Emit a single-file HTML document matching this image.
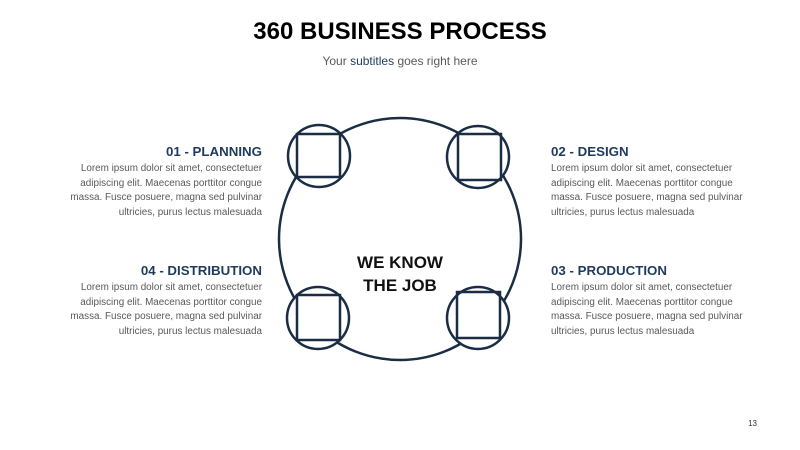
<!DOCTYPE html>
<html><head><style>
body{margin:0;width:800px;height:450px;background:#fff;font-family:"Liberation Sans",sans-serif;position:relative;overflow:hidden}
.t{position:absolute;left:0;width:800px;text-align:center}
.b{position:absolute;width:200px;font-size:9.9px;line-height:14.6px;color:#595959}
.b h3{margin:0 0 1px;font-size:13.3px;line-height:18px;color:#1f3a5f;font-weight:bold}
.l{left:62px;text-align:right}
.r{left:551px;text-align:left}
</style></head><body>
<div class="t" style="top:18px;font-size:24px;font-weight:bold;color:#000">360 BUSINESS PROCESS</div>
<div class="t" style="top:54px;font-size:12px;color:#595959">Your <span style="color:#1f3a5f">subtitles</span> goes right here</div>
<svg width="800" height="450" style="position:absolute;left:0;top:0">
<g fill="none" stroke="#1b2d45" stroke-width="2.5">
<ellipse cx="400" cy="239" rx="121" ry="121"/>
<circle cx="319" cy="156" r="31" fill="#fff"/><rect x="297" y="134" width="43" height="43"/>
<circle cx="478" cy="157" r="31" fill="#fff"/><rect x="458" y="134" width="43" height="46"/>
<circle cx="318" cy="318" r="31" fill="#fff"/><rect x="297" y="295" width="43" height="45"/>
<circle cx="478" cy="318" r="31" fill="#fff"/><rect x="457" y="292" width="43" height="46"/>
</g>
<text x="400" y="268" text-anchor="middle" font-size="17" font-weight="bold" fill="#111" font-family="Liberation Sans">WE KNOW</text>
<text x="400" y="291" text-anchor="middle" font-size="17" font-weight="bold" fill="#111" font-family="Liberation Sans">THE JOB</text>
<text x="757" y="426" text-anchor="end" font-size="8" fill="#333" font-family="Liberation Sans">13</text>
</svg>
<div class="b l" style="top:143px"><h3>01 - PLANNING</h3>Lorem ipsum dolor sit amet, consectetuer adipiscing elit. Maecenas porttitor congue massa. Fusce posuere, magna sed pulvinar ultricies, purus lectus malesuada</div>
<div class="b r" style="top:143px"><h3>02 - DESIGN</h3>Lorem ipsum dolor sit amet, consectetuer adipiscing elit. Maecenas porttitor congue massa. Fusce posuere, magna sed pulvinar ultricies, purus lectus malesuada</div>
<div class="b l" style="top:262px"><h3>04 - DISTRIBUTION</h3>Lorem ipsum dolor sit amet, consectetuer adipiscing elit. Maecenas porttitor congue massa. Fusce posuere, magna sed pulvinar ultricies, purus lectus malesuada</div>
<div class="b r" style="top:262px"><h3>03 - PRODUCTION</h3>Lorem ipsum dolor sit amet, consectetuer adipiscing elit. Maecenas porttitor congue massa. Fusce posuere, magna sed pulvinar ultricies, purus lectus malesuada</div>
</body></html>
